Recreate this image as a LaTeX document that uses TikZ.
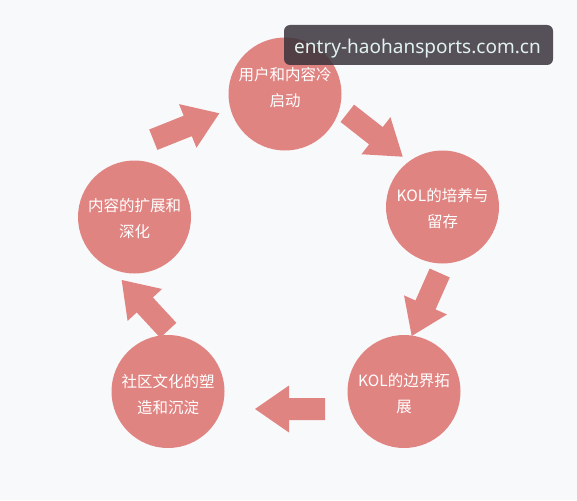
\documentclass[tikz,border=0pt]{standalone}
\usepackage{fontspec}
\newfontfamily\cjk{Noto Sans CJK SC}
\newfontfamily\wmfont{Noto Sans}
\usetikzlibrary{calc}
\definecolor{bg}{RGB}{248,249,251}
\definecolor{petal}{RGB}{224,132,130}
\definecolor{wmfill}{RGB}{58,52,60}
\definecolor{wmtext}{RGB}{226,242,238}
\newcommand{\blockarrow}[3]{% name, tail, tip
  \coordinate (#1-b) at ($(#3)!34pt!(#2)$);
  \fill[petal] ($(#2)!11pt!90:(#3)$) -- ($(#1-b)!11pt!90:(#3)$) -- ($(#1-b)!23.5pt!90:(#3)$)
    -- (#3) -- ($(#1-b)!23.5pt!-90:(#3)$) -- ($(#1-b)!11pt!-90:(#3)$) -- ($(#2)!11pt!-90:(#3)$) -- cycle;
}
\begin{document}
\begin{tikzpicture}[x=1pt,y=-1pt,
  circ/.style={circle, fill=petal, minimum size=113pt, inner sep=0pt},
  lbl/.style={text=white, align=center, font=\cjk\fontsize{15.5}{26}\selectfont, inner sep=0pt},
  wmbox/.style={fill=wmfill, fill opacity=0.85, rounded corners=6pt, minimum width=269pt, minimum height=40pt, inner sep=0pt},
  wmlbl/.style={text=wmtext, font=\wmfont\fontsize{19}{22}\selectfont, inner sep=0pt}]
\fill[bg] (0,0) rectangle (577,500);
\useasboundingbox (0,0) rectangle (577,500);

\node[circ] (c1) at (285,94) {};
\node[circ] (c2) at (442.5,207) {};
\node[circ] (c3) at (404,391.5) {};
\node[circ] (c4) at (168,391.5) {};
\node[circ] (c5) at (134.5,217) {};

\node[lbl] (t1) at (285,88) {用户和内容冷\\启动};
\node[lbl] (t2) at (442.5,208.5) {KOL的培养与\\留存};
\node[lbl] (t3) at (404,393.5) {KOL的边界拓\\展};
\node[lbl] (t4) at (168,394.5) {社区文化的塑\\造和沉淀};
\node[lbl] (t5) at (134.5,218.5) {内容的扩展和\\深化};

\coordinate (a1t) at (153.3,139.7); \coordinate (a1h) at (219.3,113.3);
\coordinate (a2t) at (347.3,113.3); \coordinate (a2h) at (402.7,156.7);
\coordinate (a3t) at (439.7,273);   \coordinate (a3h) at (411.7,336);
\coordinate (a4t) at (325,409);     \coordinate (a4h) at (255,409);
\coordinate (a5t) at (168.3,330.3); \coordinate (a5h) at (121.7,280);
\blockarrow{a1}{a1t}{a1h}
\blockarrow{a2}{a2t}{a2h}
\blockarrow{a3}{a3t}{a3h}
\blockarrow{a4}{a4t}{a4h}
\blockarrow{a5}{a5t}{a5h}

\node[wmbox] (wm) at (418.5,45) {};
\node[wmlbl, anchor=base] (wmt) at (417.5,54) {entry-haohansports.com.cn};
\end{tikzpicture}
\end{document}
